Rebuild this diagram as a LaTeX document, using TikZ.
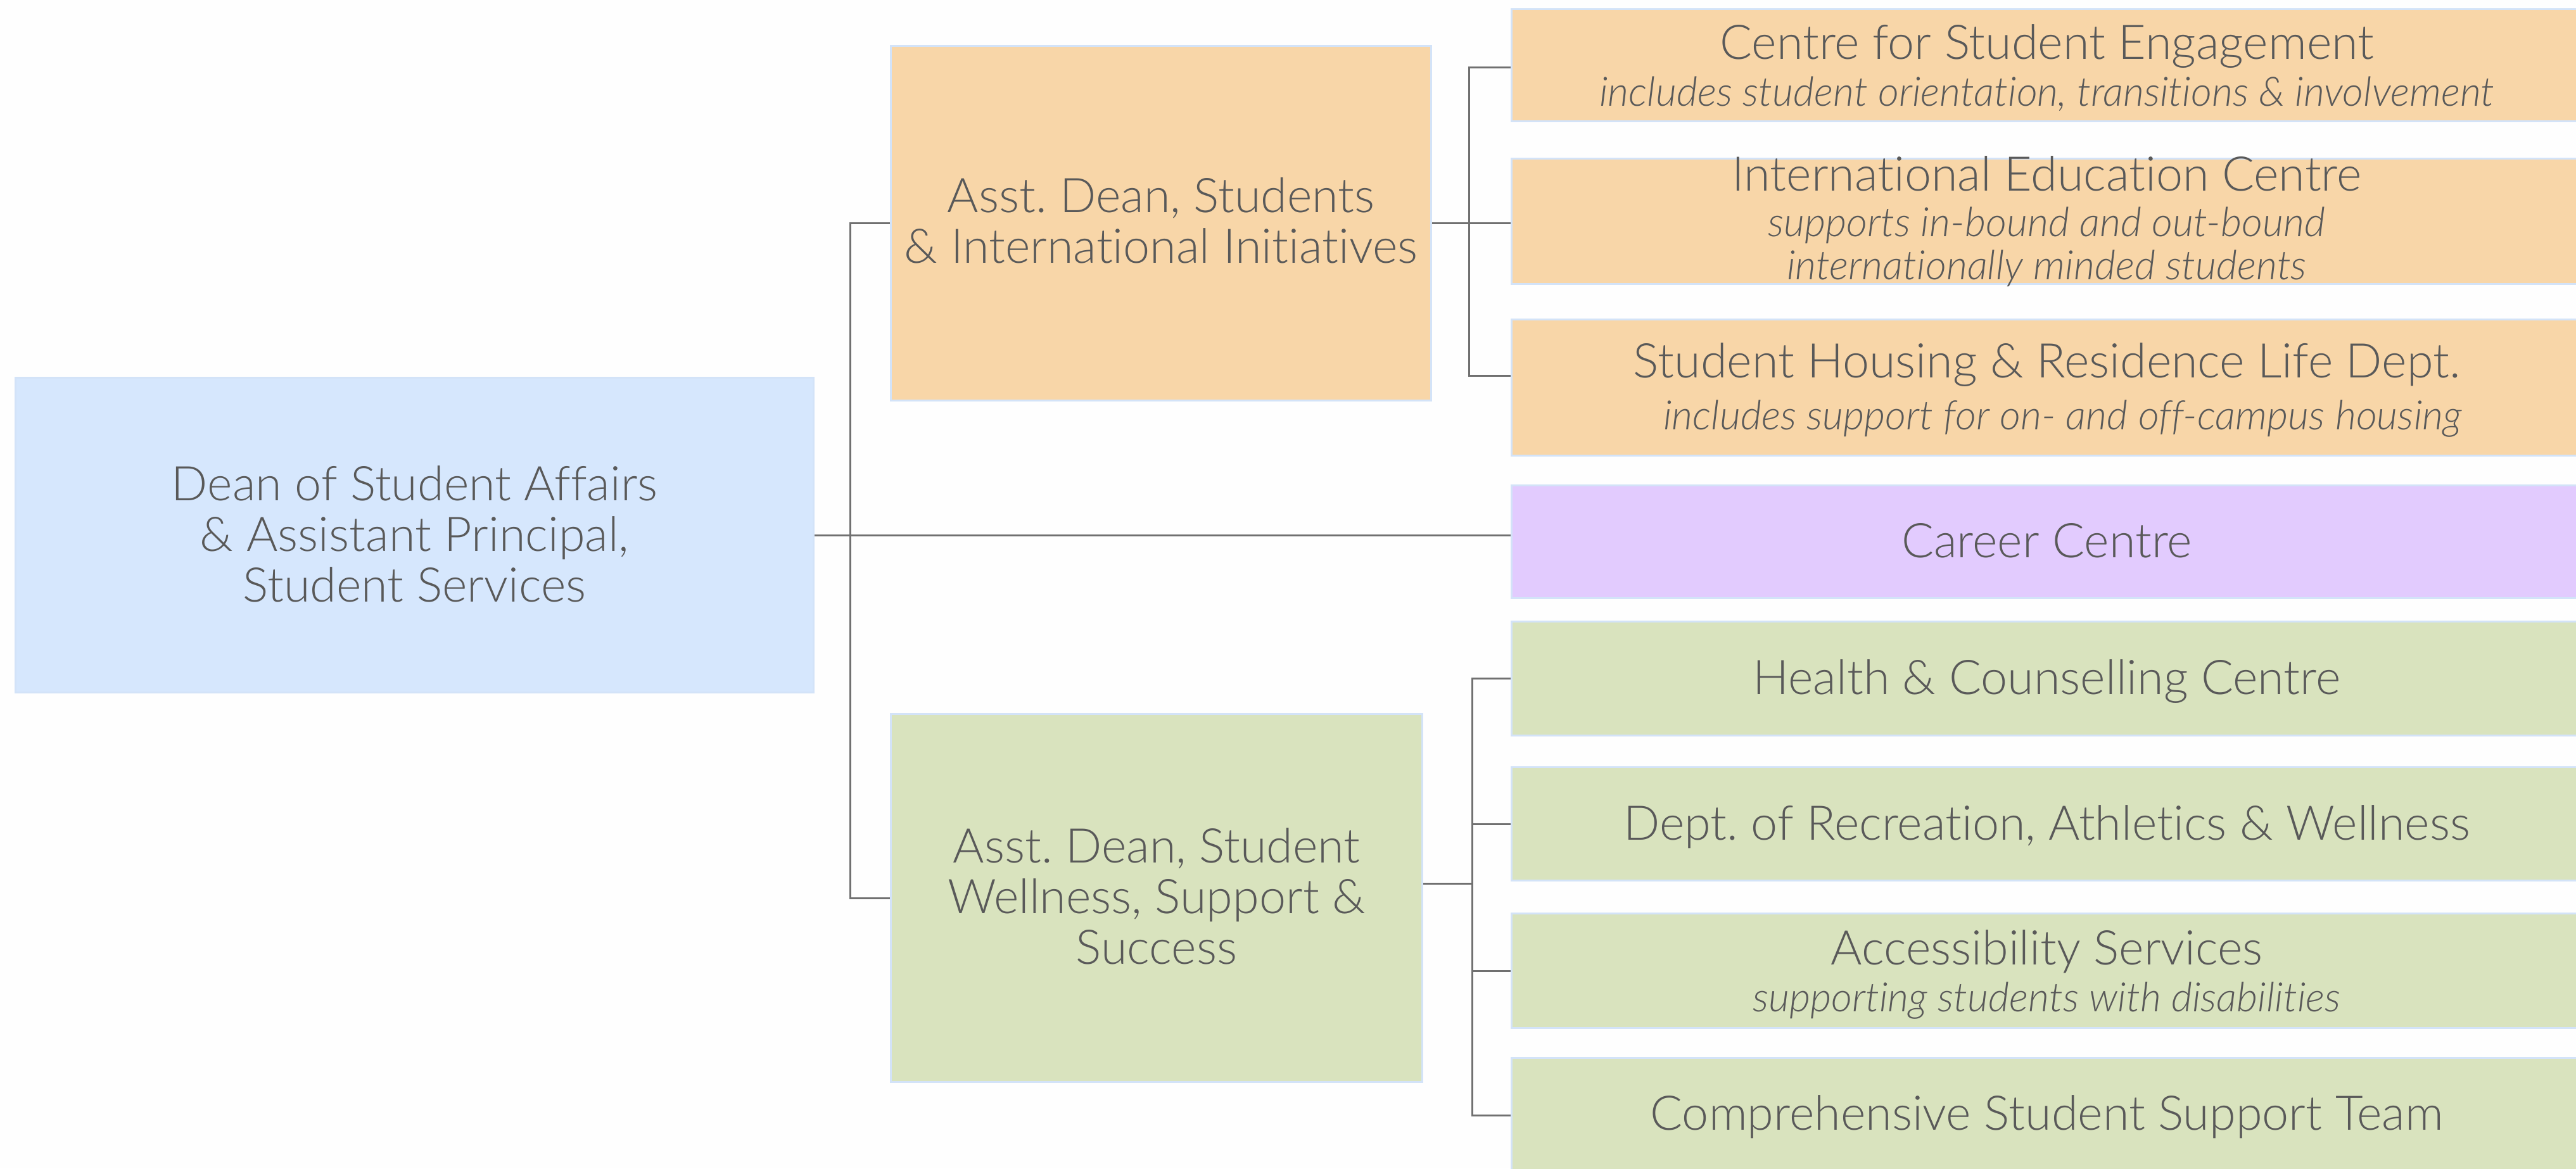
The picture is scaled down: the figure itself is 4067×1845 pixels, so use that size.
\documentclass[tikz,border=0pt]{standalone}
\usepackage{fontspec}
\setmainfont{Lato}[UprightFont=* Light, ItalicFont=* Light Italic, Ligatures=NoCommon]
\frenchspacing
\definecolor{bg}{HTML}{FEFEFE}
\definecolor{txt}{HTML}{595959}
\definecolor{edge}{HTML}{D3E3F8}
\definecolor{deanfill}{HTML}{D6E7FD}
\definecolor{orfill}{HTML}{F8D6A8}
\definecolor{grfill}{HTML}{D9E3BE}
\definecolor{pufill}{HTML}{E2CBFE}
\definecolor{lnk}{HTML}{707070}
\newcommand{\ttl}{\fontsize{75.5}{80}\selectfont}
\newcommand{\sbt}{\fontsize{64}{67}\selectfont\itshape}
\tikzset{
  box/.style={draw=edge, line width=3pt, anchor=north west, inner sep=0pt},
  lbl/.style={inner sep=0pt, align=center, text=txt, font=\ttl},
  link/.style={draw=lnk, line width=3pt},
}
\begin{document}
\begin{tikzpicture}[x=1pt,y=-1pt]
\fill[bg] (0,0) rectangle (4067,1845);
\useasboundingbox (0,0) rectangle (4067,1845);
\begin{scope}
\clip (0,0) rectangle (4067,1845);
% boxes
\node[box, fill=deanfill, minimum width=1260pt, minimum height=497pt] (dean) at (23,595) {};
\node[box, fill=orfill, minimum width=853pt, minimum height=560pt] (ads) at (1405,71) {};
\node[box, fill=grfill, minimum width=839pt, minimum height=581pt] (adw) at (1405,1126) {};
\node[box, fill=orfill, minimum width=1690pt, minimum height=177pt] (cse) at (2385,13) {};
\node[box, fill=orfill, minimum width=1690pt, minimum height=198pt] (iec) at (2385,249) {};
\node[box, fill=orfill, minimum width=1690pt, minimum height=215pt] (hous) at (2385,503) {};
\node[box, fill=pufill, minimum width=1690pt, minimum height=178pt] (car) at (2385,765) {};
\node[box, fill=grfill, minimum width=1690pt, minimum height=180pt] (hlth) at (2385,980) {};
\node[box, fill=grfill, minimum width=1690pt, minimum height=179pt] (rec) at (2385,1210) {};
\node[box, fill=grfill, minimum width=1690pt, minimum height=181pt] (acc) at (2385,1441) {};
\node[box, fill=grfill, minimum width=1690pt, minimum height=181pt] (comp) at (2385,1669) {};
% texts
\node[lbl] (dean-t) at ([yshift=2pt]dean.center)
  {Dean of Student Affairs\\ \& Assistant Principal,\\ Student Services};
\node[lbl] (ads-t) at ([yshift=4pt]ads.center)
  {Asst. Dean, Students\\ \& International Initiatives};
\node[lbl] (adw-t) at ([yshift=3pt]adw.center)
  {Asst. Dean, Student\\ Wellness, Support \&\\ Success};
\node[lbl] (cse-t) at ([yshift=-4pt]cse.center)
  {Centre for Student Engagement\\[-6pt] {\sbt includes student orientation, transitions \& involvement}};
\node[lbl] (iec-t) at (iec.center)
  {International Education Centre\\[-8pt] {\sbt supports in-bound and out-bound}\\[-12pt] {\sbt internationally minded students}};
\node[lbl] (hous-t) at ([yshift=-4pt]hous.center)
  {Student Housing \& Residence Life Dept.\\[2pt] {\sbt \hspace*{50pt}includes support for on- and off-campus housing}};
\node[lbl] (car-t) at ([yshift=2pt]car.center) {Career Centre};
\node[lbl] (hlth-t) at ([yshift=-5pt]hlth.center) {Health \& Counselling Centre};
\node[lbl] (rec-t) at ([yshift=-5pt]rec.center) {Dept. of Recreation, Athletics \& Wellness};
\node[lbl] (acc-t) at ([yshift=-6pt]acc.center)
  {Accessibility Services\\[-6pt] {\sbt supporting students with disabilities}};
\node[lbl] (comp-t) at ([yshift=-3pt]comp.center) {Comprehensive Student Support Team};
\end{scope}
% connectors
\coordinate (trunk) at (1342,0);
\coordinate (obr) at (2319,0);
\coordinate (gbr) at (2324,0);
\coordinate (csel) at ([yshift=-3pt]cse.west);
\coordinate (housl) at ([yshift=19pt]hous.west);
\coordinate (adwr) at ([yshift=23pt]adw.east);
\draw[link] (dean.east) -- (dean.east -| car.west);
\draw[link] (ads.west) -- (trunk |- ads.west) -- (trunk |- adw.west) -- (adw.west);
\draw[link] (ads.east) -- (ads.east -| iec.west);
\draw[link] (csel) -- (obr |- csel) -- (obr |- housl) -- (housl);
\draw[link] (adwr) -- (gbr |- adwr);
\draw[link] (hlth.west) -- (gbr |- hlth.west) -- (gbr |- comp.west) -- (comp.west);
\draw[link] (rec.west) -- (gbr |- rec.west);
\draw[link] (acc.west) -- (gbr |- acc.west);
\end{tikzpicture}
\end{document}
